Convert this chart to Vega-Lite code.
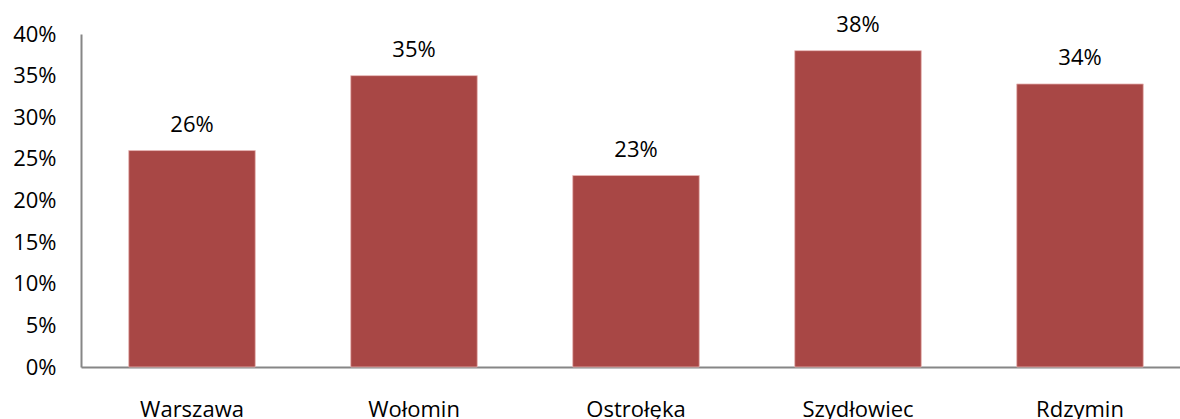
{
  "$schema": "https://vega.github.io/schema/vega-lite/v6.json",
  "autosize": {"type": "none"},
  "padding": {"left": 81, "top": 34, "right": 0, "bottom": 52},
  "width": 1110,
  "height": 333,
  "background": "white",
  "config": {
    "view": {"stroke": null},
    "font": "Open Sans"
  },
  "data": {
    "values": [
      {"miasto": "Warszawa", "wartosc": 0.26},
      {"miasto": "Wołomin", "wartosc": 0.35},
      {"miasto": "Ostrołęka", "wartosc": 0.23},
      {"miasto": "Szydłowiec", "wartosc": 0.38},
      {"miasto": "Rdzymin", "wartosc": 0.34}
    ]
  },
  "encoding": {
    "x": {
      "field": "miasto",
      "type": "nominal",
      "sort": null,
      "scale": {"paddingInner": 0.43, "paddingOuter": 0.215},
      "axis": {
        "title": null,
        "labelAngle": 0,
        "labelFont": "Open Sans",
        "labelFontSize": 22,
        "labelColor": "#000000",
        "labelPadding": 32,
        "ticks": false,
        "domainColor": "#868686",
        "domainWidth": 2
      }
    },
    "y": {
      "field": "wartosc",
      "type": "quantitative",
      "scale": {"domain": [0, 0.4], "nice": false},
      "axis": {
        "title": null,
        "format": ".0%",
        "values": [0, 0.05, 0.1, 0.15, 0.2, 0.25, 0.3, 0.35, 0.4],
        "grid": false,
        "ticks": false,
        "labelFont": "Open Sans",
        "labelFontSize": 22,
        "labelColor": "#000000",
        "labelPadding": 25,
        "domainColor": "#868686",
        "domainWidth": 2
      }
    }
  },
  "layer": [
    {
      "mark": {"type": "bar", "color": "#A84745", "stroke": "#E8B8B6", "strokeWidth": 0.8}
    },
    {
      "mark": {"type": "text", "baseline": "alphabetic", "dy": -19, "fontSize": 22, "font": "Open Sans", "color": "#000000"},
      "encoding": {
        "text": {"field": "wartosc", "type": "quantitative", "format": ".0%"}
      }
    }
  ]
}
